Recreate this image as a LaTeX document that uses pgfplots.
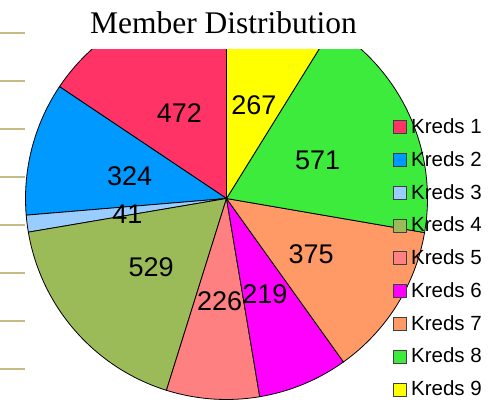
\documentclass[border=0pt]{standalone}
\usepackage{fontspec}
\setmainfont{Liberation Sans}
\newfontfamily\seriffont{Liberation Serif}
\usepackage{pgfplots}
\usepackage{pgfplotstable}
\pgfplotsset{compat=1.18}
\definecolor{k0}{RGB}{255,51,102}
\definecolor{k1}{RGB}{0,153,255}
\definecolor{k2}{RGB}{153,204,255}
\definecolor{k3}{RGB}{155,187,89}
\definecolor{k4}{RGB}{255,128,128}
\definecolor{k5}{RGB}{255,0,255}
\definecolor{k6}{RGB}{255,153,102}
\definecolor{k7}{RGB}{61,235,61}
\definecolor{k8}{RGB}{255,255,0}
\definecolor{tickc}{RGB}{198,186,136}
\newcommand\labfont{\fontsize{27bp}{27bp}\selectfont}
\pgfplotstableread{
idx value
1 472
2 324
3 41
4 529
5 226
6 219
7 375
8 571
9 267
}\piedata
\begin{document}
\begin{tikzpicture}
\path[use as bounding box] (0,0) rectangle (498bp,400bp);
% decorative tick lines on the left
\begin{axis}[at={(0,0)}, anchor=south west, x=1bp, y=1bp,
  xmin=0, xmax=498, ymin=0, ymax=400,
  axis x line=none, axis y line*=left, y axis line style={draw=none},
  ytick={31.3,79.3,127.3,175.3,223.3,271.3,319.3,367.3}, yticklabels={},
  xtick=\empty, tick align=inside, major tick length=25bp,
  ytick style={draw=tickc, line width=2bp}, clip=false]
\addplot[draw=none] coordinates {(0,0)};
\end{axis}
% pie
\begin{axis}[at={(0,0)}, anchor=south west, x=1bp, y=1bp, disabledatascaling,
  xmin=0, xmax=498, ymin=0, ymax=350, hide axis, clip=true,
  legend image code/.code={\draw[#1] (0bp,0bp) rectangle (13bp,13bp); \path[draw=none,fill=none] (0bp,0bp) -- (18.5bp,0bp);},
  legend style={at={(axis cs:392.5,281.6)}, anchor=north west, draw=none, fill=none,
    inner sep=0pt, outer sep=0pt, row sep=17.6bp,
    font=\fontsize{20.5bp}{20.5bp}\selectfont,
    nodes={inner sep=0pt, text height=15bp, text depth=0bp},
    cells={anchor=base west}}]
\pgfplotstablegetrowsof{\piedata}
\pgfmathtruncatemacro\nlast{\pgfplotsretval-1}
\def\pietotal{0}
\pgfplotsforeachungrouped \i in {0,...,\nlast}{%
  \pgfplotstablegetelem{\i}{value}\of\piedata
  \pgfmathsetmacro\pietotal{\pietotal+\pgfplotsretval}%
}
\def\piecum{0}
\pgfplotsforeachungrouped \i in {0,...,\nlast}{%
  \pgfplotstablegetelem{\i}{value}\of\piedata
  \let\pieval\pgfplotsretval
  \pgfmathsetmacro\piea{90+\piecum/\pietotal*360}%
  \pgfmathsetmacro\pieb{90+(\piecum+\pieval)/\pietotal*360}%
  \edef\piecmd{%
    \noexpand\filldraw[fill=k\i, draw=black, line width=0.8bp] (axis cs:226.5,201.5) -- ++(\piea:201bp) arc[start angle=\piea, end angle=\pieb, radius=201bp] -- cycle;%
  }\piecmd
  \pgfmathsetmacro\piecum{\piecum+\pieval}%
}
\def\piecum{0}
\pgfplotsforeachungrouped \i in {0,...,\nlast}{%
  \pgfplotstablegetelem{\i}{value}\of\piedata
  \let\pieval\pgfplotsretval
  \pgfmathsetmacro\piem{90+(\piecum+\pieval/2)/\pietotal*360}%
  \edef\piecmd{%
    \noexpand\path (axis cs:226.5,198.5) ++(\piem:100bp) node[font=\noexpand\labfont, inner sep=0pt] {\pieval};%
  }\piecmd
  \pgfmathsetmacro\piecum{\piecum+\pieval}%
}
\addlegendimage{fill=k0, draw=black!75}\addlegendentry{Kreds 1}
\addlegendimage{fill=k1, draw=black!75}\addlegendentry{Kreds 2}
\addlegendimage{fill=k2, draw=black!75}\addlegendentry{Kreds 3}
\addlegendimage{fill=k3, draw=black!75}\addlegendentry{Kreds 4}
\addlegendimage{fill=k4, draw=black!75}\addlegendentry{Kreds 5}
\addlegendimage{fill=k5, draw=black!75}\addlegendentry{Kreds 6}
\addlegendimage{fill=k6, draw=black!75}\addlegendentry{Kreds 7}
\addlegendimage{fill=k7, draw=black!75}\addlegendentry{Kreds 8}
\addlegendimage{fill=k8, draw=black!75}\addlegendentry{Kreds 9}
\end{axis}
\node[font=\seriffont\fontsize{31.5bp}{36bp}\selectfont, anchor=base, inner sep=0pt] at (223.5bp,366.7bp) {Member Distribution};
\end{tikzpicture}
\end{document}
